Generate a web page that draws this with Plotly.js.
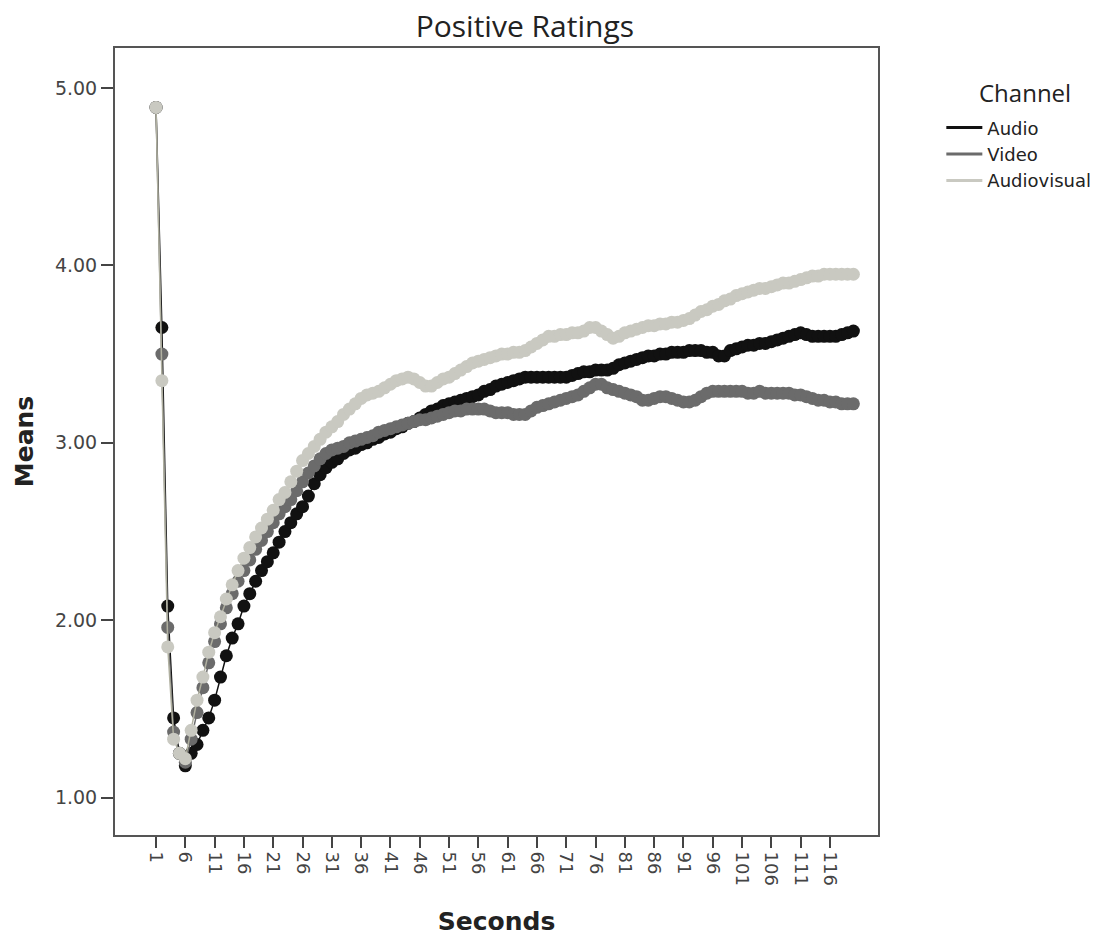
<!DOCTYPE html>
<html>
<head>
<meta charset="utf-8">
<script src="https://cdn.plot.ly/plotly-3.0.1.min.js"></script>
<style>html,body{margin:0;padding:0;background:#fff;}#chart{width:1112px;height:941px;}</style>
</head>
<body>
<div id="chart"></div>
<script>
// Seconds 1..120
const seconds = [];
for (let s = 1; s <= 120; s++) seconds.push(s);

const audio = [
4.89,3.65,2.08,1.45,1.25,1.18,1.25,1.30,1.38,1.45,
1.55,1.68,1.80,1.90,1.98,2.08,2.15,2.22,2.28,2.33,
2.38,2.44,2.50,2.55,2.60,2.64,2.70,2.77,2.82,2.86,
2.89,2.91,2.94,2.96,2.97,2.99,3.00,3.02,3.03,3.05,
3.06,3.08,3.09,3.11,3.12,3.14,3.16,3.18,3.19,3.21,
3.22,3.23,3.24,3.25,3.26,3.27,3.29,3.30,3.32,3.33,
3.34,3.35,3.36,3.37,3.37,3.37,3.37,3.37,3.37,3.37,
3.37,3.38,3.39,3.40,3.40,3.41,3.41,3.41,3.42,3.44,
3.45,3.46,3.47,3.48,3.49,3.49,3.50,3.50,3.51,3.51,
3.51,3.52,3.52,3.52,3.51,3.51,3.49,3.49,3.52,3.53,
3.54,3.55,3.55,3.56,3.56,3.57,3.58,3.59,3.60,3.61,
3.62,3.61,3.60,3.60,3.60,3.60,3.60,3.61,3.62,3.63
];

const video = [
4.89,3.50,1.96,1.37,1.25,1.20,1.33,1.48,1.62,1.76,
1.88,1.98,2.07,2.15,2.22,2.28,2.34,2.40,2.45,2.50,
2.55,2.60,2.64,2.68,2.73,2.78,2.83,2.87,2.91,2.94,
2.96,2.97,2.98,3.00,3.01,3.02,3.03,3.04,3.06,3.07,
3.08,3.09,3.10,3.11,3.12,3.13,3.13,3.14,3.15,3.16,
3.17,3.18,3.18,3.19,3.19,3.19,3.19,3.18,3.17,3.17,
3.17,3.16,3.16,3.16,3.18,3.20,3.21,3.22,3.23,3.24,
3.25,3.26,3.27,3.29,3.31,3.33,3.33,3.31,3.30,3.29,
3.28,3.27,3.26,3.24,3.24,3.25,3.26,3.26,3.25,3.24,
3.23,3.23,3.24,3.26,3.28,3.29,3.29,3.29,3.29,3.29,
3.29,3.28,3.28,3.29,3.28,3.28,3.28,3.28,3.28,3.27,
3.27,3.26,3.25,3.24,3.24,3.23,3.23,3.22,3.22,3.22
];

const audiovisual = [
4.89,3.35,1.85,1.33,1.25,1.22,1.38,1.55,1.68,1.82,
1.93,2.02,2.12,2.20,2.28,2.35,2.41,2.47,2.52,2.57,
2.62,2.68,2.72,2.78,2.84,2.90,2.94,2.98,3.02,3.06,
3.09,3.12,3.16,3.19,3.22,3.25,3.27,3.28,3.29,3.31,
3.33,3.35,3.36,3.37,3.36,3.34,3.32,3.32,3.34,3.36,
3.37,3.39,3.41,3.43,3.45,3.46,3.47,3.48,3.49,3.50,
3.50,3.51,3.51,3.52,3.54,3.56,3.58,3.60,3.60,3.61,
3.61,3.62,3.62,3.63,3.65,3.65,3.63,3.61,3.59,3.60,
3.62,3.63,3.64,3.65,3.66,3.66,3.67,3.67,3.68,3.68,
3.69,3.70,3.72,3.74,3.75,3.77,3.78,3.80,3.81,3.83,
3.84,3.85,3.86,3.87,3.87,3.88,3.89,3.90,3.90,3.91,
3.92,3.93,3.94,3.94,3.95,3.95,3.95,3.95,3.95,3.95
];

const seriesNames = ["Audio", "Video", "Audiovisual"];
const seriesColors = ["#111111", "#6b6b6b", "#c9c9c1"];
const legendTitle = "Channel";
const xTickVals = [1,6,11,16,21,26,31,36,41,46,51,56,61,66,71,76,81,86,91,96,101,106,111,116];
const xTickText = ["1","6","11","16","21","26","31","36","41","46","51","56","61","66","71","76","81","86","91","96","101","106","111","116"];
const yTickVals = [1, 2, 3, 4, 5];
const yTickText = ["1.00", "2.00", "3.00", "4.00", "5.00"];

const seriesData = [audio, video, audiovisual];
const traces = [];
seriesData.forEach((vals, i) => {
  traces.push({
    x: seconds, y: vals, type: 'scatter', mode: 'lines+markers',
    name: seriesNames[i], showlegend: false,
    line: {color: i === 2 ? '#b0b0a0' : seriesColors[i], width: 1.5},
    marker: {color: seriesColors[i], size: 13, line: {width: 0}}
  });
});
seriesNames.forEach((n, i) => {
  traces.push({
    x: [null], y: [null], type: 'scatter', mode: 'lines', name: n,
    line: {color: seriesColors[i], width: 3}
  });
});

const layout = {
  width: 1112, height: 941,
  margin: {l: 115, r: 234, t: 48, b: 106},
  paper_bgcolor: '#ffffff', plot_bgcolor: '#ffffff',
  font: {family: 'DejaVu Sans, sans-serif', color: '#333'},
  title: {text: 'Positive Ratings', font: {family: 'Open Sans, sans-serif', size: 30, color: '#222'},
          x: 0.472, xref: 'container', xanchor: 'center', y: 0.972, yref: 'container', yanchor: 'middle'},
  xaxis: {
    range: [-6.0, 124.2], tickmode: 'array', tickvals: xTickVals, ticktext: xTickText,
    tickangle: 90, ticks: 'outside', ticklen: 11, tickwidth: 2, tickcolor: '#444',
    showline: true, linecolor: '#555', linewidth: 2, mirror: true,
    showgrid: false, zeroline: false,
    tickfont: {size: 18, color: '#444', family: 'DejaVu Sans, sans-serif'},
    title: {text: '<b>Seconds</b>', font: {size: 25, color: '#222', family: 'DejaVu Sans, sans-serif'}, standoff: 28}
  },
  yaxis: {
    range: [0.79, 5.225], tickmode: 'array', tickvals: yTickVals, ticktext: yTickText,
    ticks: 'outside', ticklen: 12, tickwidth: 2, tickcolor: '#444',
    showline: true, linecolor: '#555', linewidth: 2, mirror: true,
    showgrid: false, zeroline: false,
    tickfont: {size: 19, color: '#444', family: 'DejaVu Sans, sans-serif'},
    title: {text: '<b>Means</b>', font: {size: 25, color: '#222', family: 'DejaVu Sans, sans-serif'}, standoff: 14}
  },
  legend: {
    x: 1.083, xanchor: 'left', y: 0.922, yanchor: 'top',
    font: {size: 18, color: '#222', family: 'DejaVu Sans, sans-serif'},
    bgcolor: 'rgba(0,0,0,0)', itemwidth: 36
  },
  annotations: [{
    text: legendTitle, xref: 'paper', yref: 'paper',
    x: 1.193, y: (835 - 93) / 787, xanchor: 'center', yanchor: 'middle', showarrow: false,
    font: {size: 24, color: '#222', family: 'Open Sans, sans-serif'}
  }],
  showlegend: true
};

Plotly.newPlot('chart', traces, layout, {displayModeBar: false, staticPlot: true});
</script>
</body>
</html>
